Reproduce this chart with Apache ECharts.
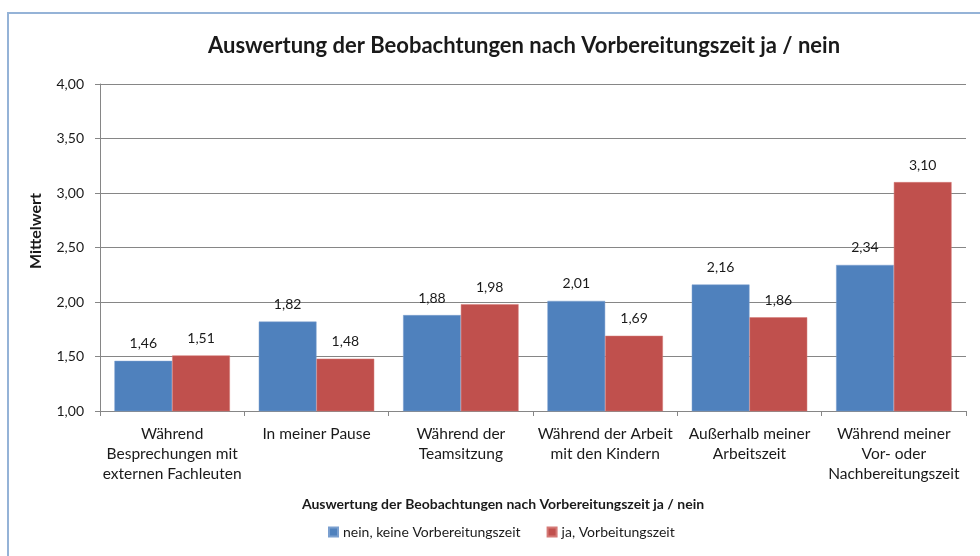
<!DOCTYPE html>
<html>
<head>
<meta charset="utf-8">
<script src="https://cdn.jsdelivr.net/npm/echarts@6/dist/echarts.min.js"></script>
<style>
  html, body { margin: 0; padding: 0; background: #fff; }
  #chart { width: 980px; height: 556px; }
</style>
</head>
<body>
<div id="chart"></div>
<script>
const categories = [
  'Während\nBesprechungen mit\nexternen Fachleuten',
  'In meiner Pause',
  'Während der\nTeamsitzung',
  'Während der Arbeit\nmit den Kindern',
  'Außerhalb meiner\nArbeitszeit',
  'Während meiner\nVor- oder\nNachbereitungszeit'
];
const seriesNames = ['nein, keine Vorbereitungszeit', 'ja, Vorbeitungszeit'];
const neinValues = [1.46, 1.82, 1.88, 2.01, 2.16, 2.34];
const jaValues = [1.51, 1.48, 1.98, 1.69, 1.86, 3.10];
const yMin = 1.0, yMax = 4.0, yStep = 0.5;

const chartTitle = 'Auswertung der Beobachtungen nach Vorbereitungszeit ja / nein';
const xAxisTitle = 'Auswertung der Beobachtungen nach Vorbereitungszeit ja / nein';
const yAxisTitle = 'Mittelwert';

const FONT = 'Lato, "Open Sans", sans-serif';
const TEXT = '#1a1a1a';
const comma = v => v.toFixed(2).replace('.', ',');

const chart = echarts.init(document.getElementById('chart'), null, { renderer: 'canvas' });

const valueLabel = {
  show: true, position: 'top', distance: 10, formatter: p => comma(p.value),
  fontSize: 14, fontFamily: FONT, color: TEXT
};

chart.setOption({
  backgroundColor: '#fff',
  animation: false,
  textStyle: { fontFamily: FONT, color: TEXT },
  grid: { left: 100, right: 14, top: 84, bottom: 145, containLabel: false },
  legend: {
    bottom: 12,
    left: 323,
    itemWidth: 9,
    itemHeight: 9,
    itemGap: 26,
    icon: 'rect',
    textStyle: { fontFamily: FONT, fontSize: 14, color: TEXT },
    data: seriesNames
  },
  graphic: [
    {
      type: 'rect',
      shape: { x: 8, y: 13, width: 990, height: 560 },
      style: { fill: 'none', stroke: '#95b3d7', lineWidth: 2 },
      silent: true, z: 100
    },
    {
      type: 'text',
      x: 524, y: 46,
      style: {
        text: chartTitle, fontFamily: FONT, fontSize: 22, fontWeight: 'bold',
        fill: TEXT, align: 'center', verticalAlign: 'middle'
      }
    },
    {
      type: 'text',
      x: 503, y: 504,
      style: {
        text: xAxisTitle, fontFamily: FONT, fontSize: 14, fontWeight: 'bold',
        fill: TEXT, align: 'center', verticalAlign: 'middle'
      }
    },
    {
      type: 'text',
      rotation: Math.PI / 2,
      x: 36, y: 231,
      style: {
        text: yAxisTitle, fontFamily: FONT, fontSize: 16, fontWeight: 'bold',
        fill: TEXT, align: 'center', verticalAlign: 'middle'
      }
    }
  ],
  xAxis: {
    type: 'category',
    data: categories,
    axisLine: { show: true, lineStyle: { color: '#868686', width: 1 } },
    axisTick: { show: true, length: 5, alignWithLabel: false, lineStyle: { color: '#868686' } },
    axisLabel: {
      interval: 0, margin: 13, fontSize: 15.5, lineHeight: 20,
      fontFamily: FONT, color: TEXT
    },
    splitLine: { show: false }
  },
  yAxis: {
    type: 'value',
    min: yMin, max: yMax, interval: yStep,
    axisLine: { show: true, lineStyle: { color: '#868686', width: 1 } },
    axisTick: { show: true, length: 5, lineStyle: { color: '#868686' } },
    axisLabel: { formatter: comma, fontSize: 14, margin: 16, fontFamily: FONT, color: TEXT },
    splitLine: { show: true, lineStyle: { color: '#868686', width: 1 } }
  },
  series: [
    {
      name: seriesNames[0],
      type: 'bar',
      data: neinValues,
      barGap: '0%',
      barCategoryGap: '20%',
      itemStyle: { color: '#4f81bd', borderColor: '#7a9fcf', borderWidth: 0.5 },
      label: valueLabel
    },
    {
      name: seriesNames[1],
      type: 'bar',
      data: jaValues,
      barGap: '0%',
      barCategoryGap: '20%',
      itemStyle: { color: '#c0504d', borderColor: '#d57a77', borderWidth: 0.5 },
      label: valueLabel
    }
  ]
});
</script>
</body>
</html>
